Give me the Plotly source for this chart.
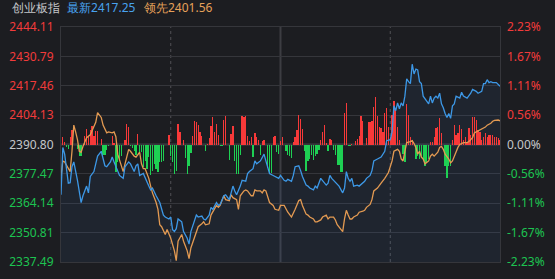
import plotly.graph_objects as go

index_name = "创业板指"
prev_close = 2390.80
price_ticks = [2444.11, 2430.79, 2417.46, 2404.13, 2390.80, 2377.47, 2364.14, 2350.81, 2337.49]
pct_labels = [2.23, 1.67, 1.11, 0.56, 0.00, -0.56, -1.11, -1.67, -2.23]

# minutes since 9:30 (0..240, 120 = 11:30/13:00)
blue_t = [0, 1, 2, 4, 5, 6, 7, 9, 11, 12, 14, 15, 16, 17, 18, 20, 21, 22, 24, 25, 27, 28, 29, 31, 32, 34, 35, 37, 38,
          40, 41, 42, 43, 45, 46, 48, 49, 50, 52, 53, 54, 56, 57, 59, 60, 61, 62, 63, 64, 66, 67, 69, 70, 71, 73, 74,
          75, 77, 78, 79, 81, 82, 83, 85, 86, 87, 89, 90, 92, 93, 94, 95, 96, 98, 99, 101, 102, 103, 105, 106, 107,
          109, 110, 111, 112, 114, 116, 117, 119, 120, 122, 123, 124, 126, 127, 128, 130, 131, 132, 134, 135, 136,
          138, 139, 140, 142, 143, 145, 146, 147, 148, 149, 151, 152, 154, 155, 156, 157, 158, 159, 160, 162, 163,
          165, 166, 167, 169, 170, 171, 173, 174, 175, 177, 178, 180, 181, 182, 183, 184, 185, 186, 187, 188, 189,
          190, 191, 192, 193, 194, 195, 196, 197, 198, 199, 201, 202, 203, 204, 205, 206, 207, 208, 209, 210, 211,
          212, 213, 214, 215, 216, 218, 219, 220, 222, 223, 224, 225, 227, 228, 230, 231, 232, 233, 234, 235, 236,
          238, 240]
blue_v = [2367.98, 2389.48, 2386.41, 2373.25, 2373.50, 2380.71, 2382.90, 2374.56, 2364.47, 2367.54, 2371.93, 2368.86,
          2376.32, 2377.64, 2378.51, 2385.53, 2386.41, 2387.73, 2381.15, 2380.71, 2382.90, 2385.10, 2382.90, 2378.51,
          2376.76, 2375.44, 2380.71, 2382.90, 2382.02, 2378.51, 2381.15, 2382.02, 2376.76, 2377.64, 2375.44, 2371.93,
          2370.18, 2371.05, 2367.54, 2365.79, 2364.47, 2358.77, 2357.89, 2357.01, 2357.89, 2352.19, 2351.31, 2352.62,
          2357.01, 2355.70, 2351.31, 2348.24, 2345.60, 2351.31, 2355.70, 2358.77, 2357.89, 2358.33, 2357.01, 2356.57,
          2358.77, 2362.28, 2361.40, 2364.47, 2363.16, 2363.59, 2367.54, 2367.98, 2365.79, 2368.86, 2371.93, 2369.74,
          2367.98, 2371.93, 2374.56, 2374.13, 2377.64, 2378.51, 2379.83, 2383.34, 2382.02, 2383.34, 2385.10, 2386.41,
          2383.34, 2377.64, 2376.76, 2376.32, 2375.44, 2376.76, 2374.56, 2374.13, 2375.00, 2374.13, 2376.76, 2380.71,
          2381.15, 2378.95, 2376.32, 2372.37, 2371.93, 2371.05, 2370.18, 2371.93, 2371.05, 2375.44, 2374.56, 2372.37,
          2373.25, 2376.76, 2375.44, 2374.56, 2373.25, 2371.93, 2368.86, 2371.05, 2378.51, 2375.44, 2374.13, 2375.44,
          2371.93, 2372.37, 2371.93, 2373.25, 2374.13, 2375.44, 2376.76, 2378.95, 2383.34, 2384.22, 2384.66, 2385.10,
          2387.73, 2392.50, 2393.00, 2396.50, 2408.35, 2406.16, 2409.67, 2407.04, 2409.67, 2408.35, 2412.74, 2420.64,
          2419.32, 2418.44, 2427.22, 2422.83, 2425.03, 2424.59, 2419.32, 2418.44, 2412.74, 2411.42, 2409.23, 2412.74,
          2409.67, 2411.86, 2412.74, 2411.86, 2414.06, 2409.23, 2407.47, 2404.84, 2403.09, 2404.84, 2402.65, 2408.35,
          2409.23, 2412.74, 2411.86, 2414.50, 2412.74, 2411.86, 2412.74, 2414.06, 2415.81, 2414.93, 2414.06, 2414.93,
          2418.44, 2418.44, 2420.20, 2418.88, 2419.32, 2418.88, 2418.88, 2417.25]

orange_t = [0, 1, 2, 4, 5, 6, 7, 8, 9, 10, 11, 12, 13, 14, 16, 17, 18, 19, 20, 21, 22, 23, 24, 25, 26, 28, 29, 30, 31,
            32, 33, 34, 35, 36, 37, 38, 39, 40, 41, 43, 44, 45, 46, 48, 49, 50, 52, 53, 54, 55, 57, 58, 60, 61, 62,
            63, 64, 66, 67, 69, 70, 71, 73, 74, 75, 77, 78, 79, 81, 82, 83, 85, 86, 87, 89, 90, 92, 93, 94, 96, 97,
            98, 100, 101, 102, 104, 105, 106, 107, 109, 110, 111, 112, 114, 116, 117, 119, 120, 122, 123, 124, 126,
            127, 128, 130, 131, 132, 134, 135, 136, 138, 139, 140, 142, 143, 145, 146, 147, 149, 150, 151, 153, 154,
            155, 156, 157, 158, 159, 160, 162, 163, 165, 166, 167, 169, 170, 171, 173, 174, 175, 177, 178, 179, 181,
            182, 184, 185, 186, 187, 188, 189, 191, 192, 193, 194, 195, 196, 197, 198, 199, 201, 202, 203, 204, 206,
            207, 208, 209, 210, 212, 213, 214, 215, 216, 217, 218, 220, 222, 223, 225, 226, 227, 229, 231, 232, 233,
            235, 236, 237, 239, 240]
orange_v = [2376.32, 2383.34, 2382.90, 2379.83, 2378.51, 2387.73, 2399.58, 2396.50, 2392.99, 2387.73, 2387.29,
            2389.92, 2391.68, 2393.87, 2395.19, 2397.38, 2399.58, 2400.89, 2405.28, 2403.96, 2403.09, 2399.58,
            2397.38, 2396.07, 2396.50, 2396.07, 2396.50, 2394.31, 2386.41, 2383.34, 2380.71, 2378.51, 2382.02,
            2385.10, 2388.61, 2387.73, 2386.41, 2385.53, 2385.10, 2387.29, 2382.02, 2379.83, 2379.83, 2375.44,
            2371.93, 2368.86, 2364.47, 2361.40, 2354.38, 2353.50, 2349.99, 2352.19, 2348.24, 2345.60, 2342.53,
            2338.14, 2346.92, 2349.99, 2346.92, 2342.53, 2339.02, 2343.85, 2348.24, 2351.31, 2353.50, 2354.82,
            2355.70, 2354.38, 2354.82, 2358.77, 2360.08, 2363.16, 2362.28, 2363.16, 2367.54, 2365.79, 2365.35,
            2367.98, 2366.67, 2365.79, 2361.40, 2367.54, 2369.74, 2370.18, 2369.74, 2367.54, 2367.54, 2370.18,
            2369.74, 2369.74, 2368.86, 2370.18, 2369.74, 2364.47, 2363.16, 2361.40, 2360.96, 2363.16, 2363.16,
            2361.40, 2360.08, 2357.89, 2360.08, 2361.40, 2365.35, 2365.79, 2363.16, 2359.21, 2358.77, 2357.89,
            2357.01, 2355.70, 2355.70, 2356.57, 2357.89, 2358.77, 2357.01, 2357.89, 2357.89, 2356.57, 2354.38,
            2352.62, 2351.31, 2357.01, 2360.96, 2358.77, 2357.01, 2357.01, 2357.89, 2358.77, 2360.08, 2360.52,
            2360.96, 2362.28, 2363.59, 2365.79, 2369.74, 2371.05, 2371.93, 2373.25, 2375.44, 2376.76, 2378.10,
            2383.34, 2387.73, 2388.61, 2387.73, 2384.22, 2383.34, 2387.73, 2391.68, 2392.12, 2392.56, 2391.24,
            2389.48, 2386.41, 2387.73, 2385.10, 2384.22, 2382.02, 2383.34, 2385.53, 2386.41, 2385.53, 2387.29,
            2389.48, 2389.92, 2388.61, 2386.41, 2384.22, 2382.46, 2383.34, 2385.53, 2387.73, 2389.48, 2390.80,
            2391.68, 2391.68, 2392.12, 2393.87, 2396.07, 2396.50, 2397.38, 2398.26, 2398.70, 2399.58, 2400.45,
            2401.33, 2401.77, 2401.90, 2401.56]

bar_t = [1, 2, 3, 4, 5, 6, 9, 10, 11, 13, 14, 15, 16, 17, 18, 19, 20, 22, 23, 24, 25, 26, 28, 29, 30, 31, 32, 33, 35,
         36, 37, 38, 39, 40, 41, 42, 43, 44, 45, 46, 47, 48, 49, 50, 51, 52, 53, 54, 55, 56, 59, 60, 61, 62, 63, 64,
         65, 67, 68, 69, 70, 71, 72, 73, 74, 75, 76, 77, 79, 80, 81, 82, 83, 84, 85, 86, 87, 88, 89, 90, 91, 92, 93,
         94, 95, 96, 97, 98, 99, 100, 101, 102, 103, 104, 105, 106, 107, 108, 109, 110, 111, 112, 113, 114, 115, 116,
         117, 118, 119, 120, 121, 123, 124, 125, 126, 127, 128, 129, 130, 131, 132, 133, 134, 135, 136, 137, 138,
         139, 140, 141, 142, 143, 144, 145, 146, 147, 148, 149, 150, 151, 152, 153, 154, 155, 156, 157, 158, 159,
         161, 162, 163, 164, 165, 166, 167, 168, 169, 170, 171, 172, 173, 174, 175, 176, 177, 178, 179, 180, 181,
         182, 183, 184, 185, 187, 188, 189, 190, 191, 192, 194, 195, 196, 197, 198, 199, 200, 201, 202, 203, 204,
         205, 206, 207, 208, 210, 211, 212, 213, 214, 215, 216, 217, 218, 219, 220, 221, 222, 223, 224, 225, 226,
         227, 228, 229, 230, 231, 232, 233, 234, 235, 236, 237, 238, 239, 240]
bar_v = [8, 3, -3, -5, 8, 15, -5, -12, -12, 9, 16, 8, 15, 19, 9, 14, 14, 6, -11, -11, -6, -2, 9, 2, -28, -18, -17,
         -12, 5, 21, 18, -2, -4, -7, -11, 11, -9, -8, -23, -17, -25, -13, -32, -27, -20, -25, -28, -18, -18, -17, 10,
         -12, -18, -30, -27, 21, 13, 5, -14, -31, -22, -9, 9, 24, 23, 20, 13, 9, -7, 1, 7, 19, 28, 13, 21, 10, -2,
         -2, 25, 29, -1, -16, 11, 19, -17, -31, -31, -11, 29, 28, 29, 9, 4, 8, -13, 12, 8, 5, -11, 4, 5, -1, -24,
         -31, -29, 8, 9, -8, -10, 4, 8, -7, -11, -12, -14, 3, 8, 15, 30, 26, 16, -7, -27, -17, -15, -11, -16, -12,
         -10, -6, 5, 13, 20, 2, -7, 6, 5, -6, -11, -21, -21, -28, -28, 33, 43, -2, -2, 1, 4, 6, 9, 29, 24, -1, 7,
         23, 23, 24, 39, 49, 29, 18, 17, 13, 33, 38, 18, 7, 30, 45, 37, 18, 5, -10, -18, 42, 30, 8, 5, -15, -12, -15,
         -13, -15, -22, -18, -15, 3, 3, 8, 17, 18, 27, 12, -22, -35, -22, -22, 5, 20, 10, 12, 20, 16, 5, 8, 2, 17,
         10, 28, 28, 25, 15, 13, 5, 8, 12, 8, 10, 10, 10, 8, 8, 7, 5]

BG = "#1c1d21"
GRID = "#35363b"
RED = "#f23b3b"
GREEN = "#1dc451"
BAR_RED = "rgba(250,58,58,0.99)"
BAR_GREEN = "rgba(30,210,84,0.99)"
GRAY_TXT = "#c4c6ca"
BLUE = "#3d98e6"
ORANGE = "#e39a52"
FONT = "Noto Sans"


def tone(v):
    if v > 1e-9:
        return RED
    if v < -1e-9:
        return GREEN
    return GRAY_TXT


pct_vals = [(p - prev_close) / prev_close * 100 for p in price_ticks]
left_text = [f'<span style="color:{tone(p - prev_close)}">{p:.2f}</span>' for p in price_ticks]
right_text = [f'<span style="color:{tone(v)}">{v:.2f}%</span>' for v in pct_labels]

fig = go.Figure()

# area under the blue line
fig.add_trace(go.Scatter(x=blue_t, y=blue_v, mode="lines", line=dict(width=0),
                         fill="tozeroy", fillcolor="rgba(60,111,174,0.10)",
                         hoverinfo="skip", showlegend=False, yaxis="y"))
# bars
fig.add_trace(go.Bar(x=bar_t, y=bar_v, width=0.7,
                     marker=dict(color=[BAR_RED if v > 0 else BAR_GREEN for v in bar_v], line=dict(width=0)),
                     showlegend=False, yaxis="y2"))
# lines
fig.add_trace(go.Scatter(x=orange_t, y=orange_v, mode="lines", line=dict(color=ORANGE, width=1.3),
                         showlegend=False, yaxis="y3"))
fig.add_trace(go.Scatter(x=blue_t, y=blue_v, mode="lines", line=dict(color=BLUE, width=1.3),
                         showlegend=False, yaxis="y3"))
# right axis holder
fig.add_trace(go.Scatter(x=[0], y=[0], mode="markers", marker=dict(opacity=0),
                         hoverinfo="skip", showlegend=False, yaxis="y4"))

prange = [price_ticks[-1], price_ticks[0]]
fig.update_layout(
    width=555, height=279,
    margin=dict(l=58, r=55, t=27, b=9),
    paper_bgcolor=BG, plot_bgcolor=BG,
    font=dict(family=FONT, size=12, color=GRAY_TXT),
    bargap=0,
    xaxis=dict(range=[0, 240], showgrid=False, zeroline=False, showticklabels=False,
               showline=True, linecolor=GRID, linewidth=1, mirror=True, ticks=""),
    yaxis=dict(range=prange, tickvals=price_ticks, ticktext=left_text, showgrid=True,
               gridcolor=GRID, gridwidth=1, zeroline=False, showline=True, linecolor=GRID,
               mirror=True, ticks="", ticklabelstandoff=4, tickfont=dict(family=FONT, size=12)),
    yaxis2=dict(range=[-121.5, 121.5], overlaying="y", visible=False),
    yaxis3=dict(range=prange, overlaying="y", visible=False),
    yaxis4=dict(range=[pct_vals[-1], pct_vals[0]], overlaying="y", side="right", tickvals=pct_vals,
                ticktext=right_text, showgrid=False, zeroline=False, ticks="",
                ticklabelstandoff=6, tickfont=dict(family=FONT, size=12)),
    shapes=[
        dict(type="line", xref="x", yref="paper", x0=60, x1=60, y0=0, y1=1,
             line=dict(color="#505156", width=1, dash="3px,3px"), layer="below"),
        dict(type="line", xref="x", yref="paper", x0=180, x1=180, y0=0, y1=1,
             line=dict(color="#505156", width=1, dash="3px,3px"), layer="below"),
        dict(type="line", xref="x", yref="paper", x0=120, x1=120, y0=0, y1=1,
             line=dict(color="#3c3d42", width=2), layer="below"),
        dict(type="line", xref="paper", yref="y", x0=0, x1=1, y0=prev_close, y1=prev_close,
             line=dict(color="#404146", width=2), layer="below"),
    ],
    annotations=[
        dict(text=index_name, xref="paper", yref="paper", x=-51 / 442, y=1 + 20 / 243,
             xanchor="left", yanchor="middle", showarrow=False,
             font=dict(family=FONT, size=12, color=GRAY_TXT)),
        dict(text=f"最新{blue_v[-1]:.2f}", xref="paper", yref="paper", x=4 / 442, y=1 + 20 / 243,
             xanchor="left", yanchor="middle", showarrow=False,
             font=dict(family=FONT, size=12, color="#48a2ef")),
        dict(text=f"领先{orange_v[-1]:.2f}", xref="paper", yref="paper", x=82 / 442, y=1 + 20 / 243,
             xanchor="left", yanchor="middle", showarrow=False,
             font=dict(family=FONT, size=12, color="#e6a15a")),
    ],
)

fig.write_html("out.html")
